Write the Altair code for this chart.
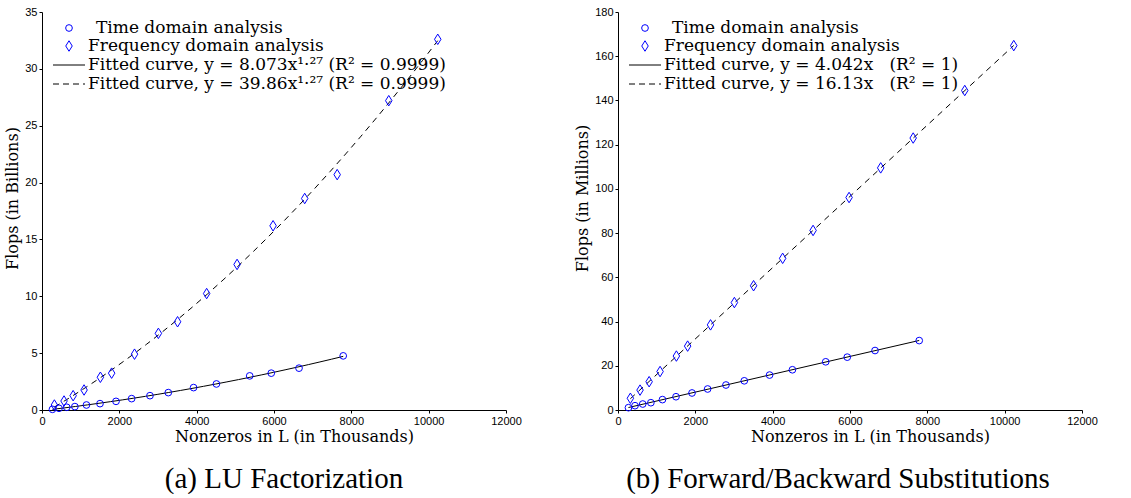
import altair as alt
import pandas as pd

# Nonzeros in L (in thousands)
x_time = [270, 440, 640, 850, 1150, 1500, 1914, 2318, 2792, 3266, 3920, 4511, 5372, 5929, 6647, 7790]
x_freq = [320, 570, 805, 1088, 1510, 1801, 2393, 3010, 3506, 4258, 5045, 5976, 6794, 7634, 8968, 10235]

# (a) LU factorization flops, billions
lu_time = [0.06, 0.15, 0.24, 0.30, 0.44, 0.56, 0.76, 1.00, 1.26, 1.53, 1.97, 2.29, 3.00, 3.24, 3.68, 4.76]
lu_freq = [0.44, 0.79, 1.26, 1.76, 2.88, 3.24, 4.91, 6.74, 7.76, 10.24, 12.8, 16.2, 18.6, 20.7, 27.2, 32.6]

# (b) Forward/backward substitution flops, millions
fb_time = [1.05, 1.95, 2.7, 3.3, 4.7, 6.0, 7.7, 9.5, 11.3, 13.2, 15.8, 18.2, 21.8, 23.9, 26.9, 31.4]
fb_freq = [5.3, 9.0, 12.8, 17.4, 24.4, 28.9, 38.5, 48.6, 56.2, 68.6, 81.2, 96.1, 109.5, 123.0, 144.5, 164.8]

x_ticks = [0, 2000, 4000, 6000, 8000, 10000, 12000]

legend_a = ["Time domain analysis", "Frequency domain analysis",
            "Fitted curve, y = 8.073x¹·²⁷ (R² = 0.9999)",
            "Fitted curve, y = 39.86x¹·²⁷ (R² = 0.9999)"]
legend_b = ["Time domain analysis", "Frequency domain analysis",
            "Fitted curve, y = 4.042x\u00a0\u00a0\u00a0(R² = 1)",
            "Fitted curve, y = 16.13x\u00a0\u00a0\u00a0(R² = 1)"]

SERIF = "DejaVu Serif"
SANS = "Liberation Sans"
DIAMOND = "M0,-1L0.62,0L0,1L-0.62,0Z"
W, H = 464, 398


def panel(y_time, y_freq, ymax, ystep, ytitle, method, order, legend, caption, cap_dx):
    df_t = pd.DataFrame({"x": x_time, "y": y_time})
    df_f = pd.DataFrame({"x": x_freq, "y": y_freq})
    common = dict(labelFont=SANS, labelFontSize=11, labelColor="black",
                  titleFont=SERIF, titleFontSize=16, titleFontWeight="normal",
                  titleColor="black", grid=False, domainColor="black",
                  tickColor="black", tickSize=3, labelPadding=2)
    X = alt.X("x:Q", scale=alt.Scale(domain=[0, 12000], nice=False),
              axis=alt.Axis(values=x_ticks, title="Nonzeros in L (in Thousands)",
                            labelFlush=False, format="d", titlePadding=2,
                            titleX=252, **common))
    Y = alt.Y("y:Q", scale=alt.Scale(domain=[0, ymax], nice=False),
              axis=alt.Axis(values=list(range(0, ymax + 1, ystep)), title=ytitle,
                            titlePadding=4, titleY=186, **common))

    reg = dict(method=method)
    if order:
        reg["order"] = order
    fit_t = alt.Chart(df_t).transform_regression("x", "y", **reg).mark_line(
        color="black", strokeWidth=1).encode(x=X, y=Y)
    fit_f = alt.Chart(df_f).transform_regression("x", "y", **reg).mark_line(
        color="black", strokeWidth=1, strokeDash=[6, 5]).encode(x=X, y=Y)
    pts_t = alt.Chart(df_t).mark_point(shape="circle", color="blue", size=45,
                                       strokeWidth=1, opacity=1).encode(x=X, y=Y)
    pts_f = alt.Chart(df_f).mark_point(shape=DIAMOND, color="blue", size=110,
                                       strokeWidth=1, opacity=1).encode(x=X, y=Y)

    one = pd.DataFrame({"k": [0]})
    leg = [
        alt.Chart(one).mark_point(shape="circle", color="blue", size=45, strokeWidth=1,
                                  opacity=1).encode(x=alt.value(27), y=alt.value(16)),
        alt.Chart(one).mark_point(shape=DIAMOND, color="blue", size=110, strokeWidth=1,
                                  opacity=1).encode(x=alt.value(27), y=alt.value(34)),
        alt.Chart(one).mark_rule(color="black", strokeWidth=1).encode(
            x=alt.value(11), x2=alt.value(43), y=alt.value(53)),
        alt.Chart(one).mark_rule(color="black", strokeWidth=1, strokeDash=[6, 4]).encode(
            x=alt.value(11), x2=alt.value(43), y=alt.value(72)),
    ]
    for i, (tx, ty) in enumerate([(54, 16), (46, 34), (46, 53), (46, 72)]):
        leg.append(alt.Chart(one).mark_text(align="left", baseline="middle", font=SERIF,
                                            fontSize=17, color="black").encode(
            x=alt.value(tx), y=alt.value(ty), text=alt.value(legend[i])))

    return alt.layer(fit_t, fit_f, pts_t, pts_f, *leg).properties(
        width=W, height=H,
        title=alt.TitleParams(caption, orient="bottom", font="Liberation Serif",
                              fontSize=29, fontWeight="normal", offset=21, dx=cap_dx,
                              color="black"))


left = panel(lu_time, lu_freq, 35, 5, "Flops (in Billions)", "poly", 2, legend_a,
             "(a) LU Factorization", 10)
right = panel(fb_time, fb_freq, 180, 20, "Flops (in Millions)", "linear", None, legend_b,
              "(b) Forward/Backward Substitutions", -12)

chart = alt.hconcat(left, right, spacing=52).properties(
    padding={"left": 4, "top": 6, "right": 10, "bottom": 0},
    background="white",
).configure_view(stroke=None)

chart.save("out.html", embed_options={"renderer": "svg", "actions": False})
